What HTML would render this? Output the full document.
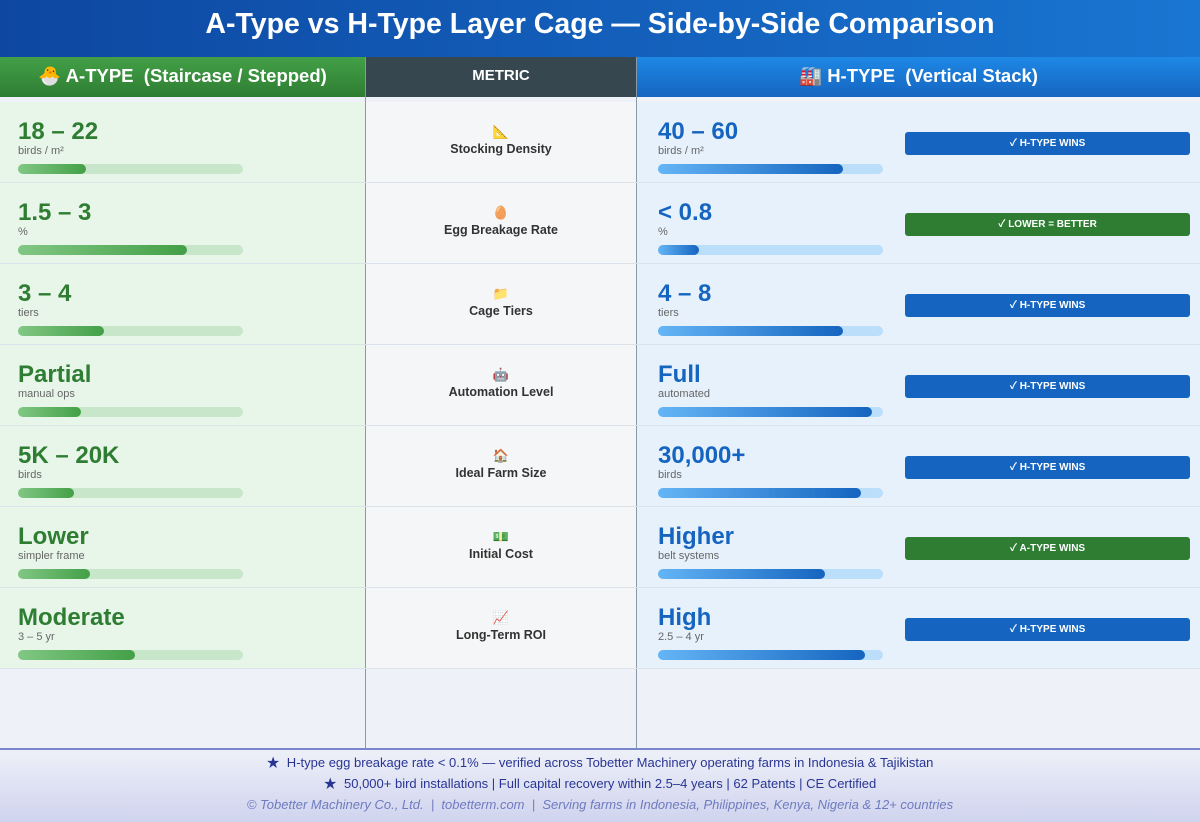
<!DOCTYPE html>
<html><head><meta charset="utf-8"><style>
*{margin:0;padding:0;box-sizing:border-box}
body{width:1200px;height:822px;overflow:hidden;font-family:"Liberation Sans","Noto Sans CJK SC",sans-serif;background:#eef2f8;position:relative}
.title{position:absolute;left:0;top:0;width:1200px;height:57px;background:linear-gradient(90deg,#0d47a1,#1976d2);color:#fff;font-size:28.5px;font-weight:bold;text-align:center;line-height:48px}
.h{position:absolute;top:57px;height:40px;color:#fff;font-weight:bold;text-align:center;line-height:38px}
.hl{left:0;width:365px;background:linear-gradient(#43a047,#2e7d32);font-size:18.5px}
.hm{left:366px;width:270px;background:#37474f;font-size:15px}
.hr{left:637px;width:563px;background:linear-gradient(#1e88e5,#1565c0);font-size:18.5px}
.vl{position:absolute;top:57px;bottom:74px;width:1px;background:#8a9aa5}
.row{position:absolute;left:0;width:1200px;height:81px;border-bottom:1px solid #dde3ea}
.c{position:absolute;top:0;height:80px}
.l{left:0;width:365px;background:#e8f5e9}
.m{left:366px;width:270px;background:#f5f6f7;text-align:center}
.r{left:637px;width:563px;background:#e6f1fc}
.val{position:absolute;left:18px;top:16px;font-size:24px;font-weight:bold}
.l .val{color:#2e7d32}.r .val{color:#1565c0;left:21px}
.sub{position:absolute;left:18px;top:43px;font-size:11px;color:#666}
.r .sub{left:21px}
.bar{position:absolute;left:18px;top:62px;width:225px;height:10px;border-radius:5px}
.r .bar{left:21px}
.l .bar{background:#c8e6c9}.r .bar{background:#bbdefb}
.bar i{display:block;height:100%;border-radius:5px}
.l .bar i{background:linear-gradient(90deg,#81c784,#43a047)}
.r .bar i{background:linear-gradient(90deg,#64b5f6,#1565c0)}
.ic{position:absolute;top:22px;width:100%;font-size:13px}
.lab{position:absolute;top:40px;width:100%;font-size:12.5px;font-weight:bold;color:#333}
.badge{position:absolute;left:268px;top:30px;width:285px;height:23px;border-radius:3px;color:#fff;font-size:10px;font-weight:bold;text-align:center;line-height:23px}
.bb{background:#1565c0}.bg{background:#2e7d32}
.foot{position:absolute;left:0;top:748px;width:1200px;height:74px;background:linear-gradient(#eef0f8,#cfd3ee);border-top:2px solid #7986cb;text-align:center;color:#283593;font-size:13px}
.foot div{height:21px;line-height:21px}
</style></head><body>
<div class="title">A-Type vs H-Type Layer Cage — Side-by-Side Comparison</div>
<div class="h hl">🐣 A-TYPE&nbsp; (Staircase / Stepped)</div>
<div class="h hm">METRIC</div>
<div class="h hr">🏭 H-TYPE&nbsp; (Vertical Stack)</div>
<div class="vl" style="left:365px"></div><div class="vl" style="left:636px"></div>

<div class="row" style="top:102px"><div class="c l"><div class="val">18 – 22</div><div class="sub">birds / m²</div><div class="bar"><i style="width:30%"></i></div></div><div class="c m"><div class="ic">📐</div><div class="lab">Stocking Density</div></div><div class="c r"><div class="val">40 – 60</div><div class="sub">birds / m²</div><div class="bar"><i style="width:82%"></i></div><div class="badge bb">✓ H-TYPE WINS</div></div></div>
<div class="row" style="top:183px"><div class="c l"><div class="val">1.5 – 3</div><div class="sub">%</div><div class="bar"><i style="width:75%"></i></div></div><div class="c m"><div class="ic">🥚</div><div class="lab">Egg Breakage Rate</div></div><div class="c r"><div class="val">&lt; 0.8</div><div class="sub">%</div><div class="bar"><i style="width:18%"></i></div><div class="badge bg">✓ LOWER = BETTER</div></div></div>
<div class="row" style="top:264px"><div class="c l"><div class="val">3 – 4</div><div class="sub">tiers</div><div class="bar"><i style="width:38%"></i></div></div><div class="c m"><div class="ic">📁</div><div class="lab">Cage Tiers</div></div><div class="c r"><div class="val">4 – 8</div><div class="sub">tiers</div><div class="bar"><i style="width:82%"></i></div><div class="badge bb">✓ H-TYPE WINS</div></div></div>
<div class="row" style="top:345px"><div class="c l"><div class="val">Partial</div><div class="sub">manual ops</div><div class="bar"><i style="width:28%"></i></div></div><div class="c m"><div class="ic">🤖</div><div class="lab">Automation Level</div></div><div class="c r"><div class="val">Full</div><div class="sub">automated</div><div class="bar"><i style="width:95%"></i></div><div class="badge bb">✓ H-TYPE WINS</div></div></div>
<div class="row" style="top:426px"><div class="c l"><div class="val">5K – 20K</div><div class="sub">birds</div><div class="bar"><i style="width:25%"></i></div></div><div class="c m"><div class="ic">🏠</div><div class="lab">Ideal Farm Size</div></div><div class="c r"><div class="val">30,000+</div><div class="sub">birds</div><div class="bar"><i style="width:90%"></i></div><div class="badge bb">✓ H-TYPE WINS</div></div></div>
<div class="row" style="top:507px"><div class="c l"><div class="val">Lower</div><div class="sub">simpler frame</div><div class="bar"><i style="width:32%"></i></div></div><div class="c m"><div class="ic">💵</div><div class="lab">Initial Cost</div></div><div class="c r"><div class="val">Higher</div><div class="sub">belt systems</div><div class="bar"><i style="width:74%"></i></div><div class="badge bg">✓ A-TYPE WINS</div></div></div>
<div class="row" style="top:588px"><div class="c l"><div class="val">Moderate</div><div class="sub">3 – 5 yr</div><div class="bar"><i style="width:52%"></i></div></div><div class="c m"><div class="ic">📈</div><div class="lab">Long-Term ROI</div></div><div class="c r"><div class="val">High</div><div class="sub">2.5 – 4 yr</div><div class="bar"><i style="width:92%"></i></div><div class="badge bb">✓ H-TYPE WINS</div></div></div>

<div class="foot"><div style="margin-top:2px">★&nbsp; H-type egg breakage rate &lt; 0.1% — verified across Tobetter Machinery operating farms in Indonesia &amp; Tajikistan</div><div>★&nbsp; 50,000+ bird installations | Full capital recovery within 2.5–4 years | 62 Patents | CE Certified</div><div style="font-style:italic;color:#6f7bbf">© Tobetter Machinery Co., Ltd. &nbsp;| &nbsp;tobetterm.com &nbsp;| &nbsp;Serving farms in Indonesia, Philippines, Kenya, Nigeria &amp; 12+ countries</div></div>
</body></html>
